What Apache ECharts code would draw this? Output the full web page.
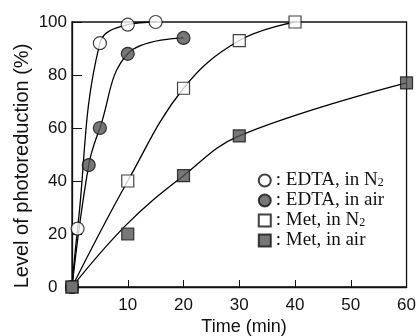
<!DOCTYPE html>
<html><head><meta charset="utf-8">
<script src="https://cdn.jsdelivr.net/npm/echarts@6/dist/echarts.min.js"></script>
<style>html,body{margin:0;padding:0;background:#fff}#c{width:419px;height:336px}</style>
</head><body><div id="c"></div>
<script>
// Measured points (time min, level %)
var edtaN2Pts = [[0,0],[1,22],[5,92],[10,99],[15,100]];
var edtaAirPts = [[0,0],[3,46],[5,60],[10,88],[20,94]];
var metN2Pts = [[0,0],[10,40],[20,75],[30,93],[40,100]];
var metAirPts = [[0,0],[10,20],[20,42],[30,57],[60,77]];
// Drawn curves
var edtaN2Curve = [[0,0],[1,22],[5,92],[10,99],[15,100]];
var edtaAirCurve = [[0,0],[3,46],[5,60],[10,88],[20,94]];
var metN2Curve = [[0,0],[10,40],[20,75],[30,93],[40,100]];
var metAirCurve = [[0,0],[10,24],[20,42],[30,57],[60,77]];
var seriesNames = ['EDTA, in N2','EDTA, in air','Met, in N2','Met, in air'];
var yTicks = [0,20,40,60,80,100];
var xTitle = 'Time (min)';
var yTitle = 'Level of photoreduction (%)';

var chart = echarts.init(document.getElementById('c'));
var lineStyle = {color:'#000', width:1.3};
function curve(d){ return {type:'line', data:d, smooth:0.4, showSymbol:false, symbol:'none', lineStyle:lineStyle, silent:true, z:2}; }
function pts(name, d, symbol, fill){
  return {type:'scatter', name:name, data:d, symbol:symbol, symbolSize: symbol==='circle'?13:12,
    itemStyle:{color:fill, borderColor:'#111', borderWidth:1.2}, z:3};
}
var option = {
  animation:false,
  backgroundColor:'#fff',
  grid:{left:72, right:10, top:22, bottom:49, show:true, borderColor:'#111', borderWidth:1.3},
  xAxis:{type:'value', min:0, max:60, interval:10,
    axisLine:{show:true, onZero:false, lineStyle:{color:'#111', width:1.3}},
    axisTick:{show:true, inside:true, length:7, lineStyle:{color:'#111'}},
    axisLabel:{showMinLabel:false, fontFamily:'Liberation Sans', fontSize:17, color:'#111', margin:10},
    splitLine:{show:false}},
  yAxis:{type:'value', min:0, max:100, interval:20,
    axisLine:{show:true, lineStyle:{color:'#111', width:1.3}},
    axisTick:{show:true, inside:true, length:10, lineStyle:{color:'#111'}},
    axisLabel:{fontFamily:'Liberation Sans', fontSize:17, color:'#111', margin:5,
      formatter:function(v){return v===0?'0  ':(yTicks.indexOf(v)>=0?String(v):'');}},
    splitLine:{show:false}},
  graphic:[
    {type:'text', x:244, y:327, style:{text:xTitle, fontFamily:'Liberation Sans', fontSize:18, fill:'#111', textAlign:'center', textVerticalAlign:'middle'}},
    {type:'text', x:22, y:166, rotation:Math.PI/2, style:{text:yTitle, fontFamily:'Liberation Sans', fontSize:20, fill:'#111', textAlign:'center', textVerticalAlign:'middle'}}
  ],
  legend:{orient:'vertical', right:30, top:166, itemGap:1, itemWidth:12, itemHeight:12,
    data:seriesNames,
    textStyle:{fontFamily:'Liberation Serif', fontSize:19, color:'#111',
      rich:{a:{fontFamily:'Liberation Serif', fontSize:19, lineHeight:17, color:'#111'},
            s:{fontFamily:'Liberation Serif', fontSize:12, lineHeight:7, color:'#111', verticalAlign:'bottom'}}},
    formatter:function(n){
      if(/N2$/.test(n)) return '{a|: '+n.slice(0,-1)+'}{s|2}';
      return '{a|: '+n+'}';
    }},
  series:[
    curve(edtaN2Curve), curve(edtaAirCurve), curve(metN2Curve), curve(metAirCurve),
    pts(seriesNames[0], edtaN2Pts, 'circle', '#fff'),
    pts(seriesNames[1], edtaAirPts, 'circle', '#555'),
    pts(seriesNames[2], metN2Pts, 'rect', '#fff'),
    pts(seriesNames[3], metAirPts, 'rect', '#555')
  ]
};
chart.setOption(option);
</script></body></html>
